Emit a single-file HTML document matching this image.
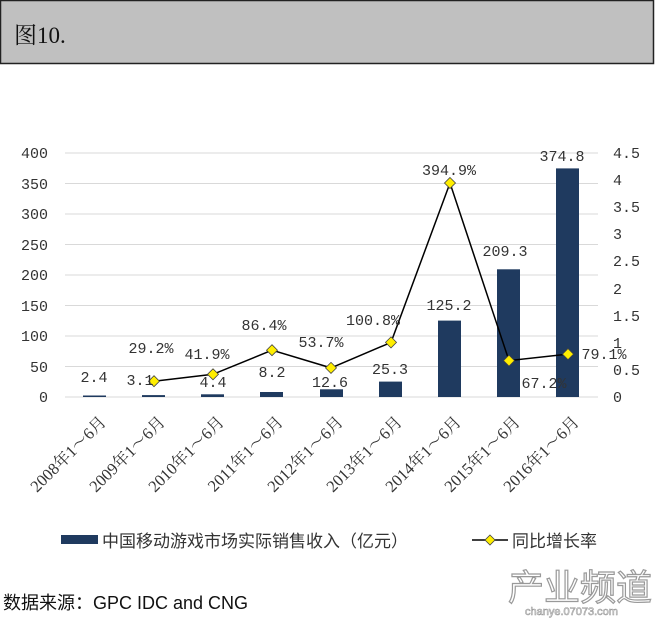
<!DOCTYPE html>
<html><head><meta charset="utf-8"><style>
body{margin:0;background:#fff;width:655px;height:618px;overflow:hidden;position:relative}
</style></head><body>
<svg width="655" height="618" xmlns="http://www.w3.org/2000/svg" style="position:absolute;left:0;top:0">
<rect x="0.5" y="0.5" width="653" height="63" fill="#c0c0c0" stroke="#222" stroke-width="1.5"/>
<text x="14" y="43" font-family="Liberation Serif, Noto Serif CJK SC, serif" font-size="23" fill="#111">图10.</text>
<g stroke="#d9d9d9" stroke-width="1">
<line x1="65" x2="598" y1="153" y2="153"/><line x1="65" x2="598" y1="183.5" y2="183.5"/>
<line x1="65" x2="598" y1="214" y2="214"/><line x1="65" x2="598" y1="244.5" y2="244.5"/>
<line x1="65" x2="598" y1="275" y2="275"/><line x1="65" x2="598" y1="305.5" y2="305.5"/>
<line x1="65" x2="598" y1="336" y2="336"/><line x1="65" x2="598" y1="366.5" y2="366.5"/>
<line x1="65" x2="598" y1="397" y2="397"/>
</g>
<g font-family="Liberation Mono, monospace" font-size="15" fill="#333" text-anchor="end">
<text x="48" y="158">400</text><text x="48" y="189">350</text><text x="48" y="219">300</text>
<text x="48" y="250">250</text><text x="48" y="280">200</text><text x="48" y="311">150</text>
<text x="48" y="341">100</text><text x="48" y="372">50</text><text x="48" y="402">0</text>
</g>
<g font-family="Liberation Mono, monospace" font-size="15" fill="#333">
<text x="613" y="158">4.5</text><text x="613" y="185">4</text><text x="613" y="212">3.5</text>
<text x="613" y="239">3</text><text x="613" y="266">2.5</text><text x="613" y="294">2</text>
<text x="613" y="321">1.5</text><text x="613" y="348">1</text><text x="613" y="375">0.5</text>
<text x="613" y="402">0</text>
</g>
<g fill="#1f3a5f">
<rect x="83" y="395.5" width="23" height="1.5"/>
<rect x="142" y="395.1" width="23" height="1.9"/>
<rect x="201" y="394.3" width="23" height="2.7"/>
<rect x="260" y="392" width="23" height="5"/>
<rect x="320" y="389.3" width="23" height="7.7"/>
<rect x="379" y="381.6" width="23" height="15.4"/>
<rect x="438" y="320.6" width="23" height="76.4"/>
<rect x="497" y="269.3" width="23" height="127.7"/>
<rect x="556" y="168.4" width="23" height="228.6"/>
</g>
<polyline fill="none" stroke="#000" stroke-width="1.5" points="154,381.2 213,374.3 272,350.2 331,367.9 391,342.4 450,183 509,360.6 568,354.1"/>
<g fill="#ffee00" stroke="#444" stroke-width="0.8">
<path d="M154,375.7 l5.5,5.5 -5.5,5.5 -5.5,-5.5z"/>
<path d="M213,368.8 l5.5,5.5 -5.5,5.5 -5.5,-5.5z"/>
<path d="M272,344.7 l5.5,5.5 -5.5,5.5 -5.5,-5.5z"/>
<path d="M331,362.4 l5.5,5.5 -5.5,5.5 -5.5,-5.5z"/>
<path d="M391,336.9 l5.5,5.5 -5.5,5.5 -5.5,-5.5z"/>
<path d="M450,177.5 l5.5,5.5 -5.5,5.5 -5.5,-5.5z"/>
<path d="M509,355.1 l5.5,5.5 -5.5,5.5 -5.5,-5.5z"/>
<path d="M568,348.6 l5.5,5.5 -5.5,5.5 -5.5,-5.5z"/>
</g>
<g font-family="Liberation Mono, monospace" font-size="15" fill="#333" text-anchor="middle">
<text x="94" y="382">2.4</text><text x="140" y="385">3.1</text><text x="213" y="387">4.4</text>
<text x="272" y="377">8.2</text><text x="330" y="387">12.6</text><text x="390" y="374">25.3</text>
<text x="449" y="310">125.2</text><text x="505" y="256">209.3</text><text x="562" y="161">374.8</text>
<text x="151" y="353">29.2%</text><text x="207" y="359">41.9%</text><text x="264" y="330">86.4%</text>
<text x="321" y="347">53.7%</text><text x="373" y="325">100.8%</text><text x="449" y="175">394.9%</text>
<text x="544" y="388">67.2%</text><text x="604" y="359">79.1%</text>
</g>
<g font-family="Liberation Serif, Noto Serif CJK SC, serif" font-size="16.5" fill="#333" text-anchor="end">
<text transform="translate(107,423) rotate(-45)">2008年1～6月</text>
<text transform="translate(166,423) rotate(-45)">2009年1～6月</text>
<text transform="translate(225,423) rotate(-45)">2010年1～6月</text>
<text transform="translate(284,423) rotate(-45)">2011年1～6月</text>
<text transform="translate(344,423) rotate(-45)">2012年1～6月</text>
<text transform="translate(403,423) rotate(-45)">2013年1～6月</text>
<text transform="translate(462,423) rotate(-45)">2014年1～6月</text>
<text transform="translate(521,423) rotate(-45)">2015年1～6月</text>
<text transform="translate(580,423) rotate(-45)">2016年1～6月</text>
</g>
<rect x="61" y="535" width="37" height="9" fill="#1f3a5f"/>
<text x="102" y="547" font-family="Liberation Sans, Noto Sans CJK SC, sans-serif" font-size="17" fill="#333">中国移动游戏市场实际销售收入（亿元）</text>
<line x1="472" x2="508" y1="540" y2="540" stroke="#000" stroke-width="1.5"/>
<path d="M490,535 l5,5 -5,5 -5,-5z" fill="#ffee00" stroke="#444" stroke-width="0.8"/>
<text x="512" y="547" font-family="Liberation Sans, Noto Sans CJK SC, sans-serif" font-size="17" fill="#333">同比增长率</text>
<text x="3" y="609" font-family="Liberation Sans, Noto Sans CJK SC, sans-serif" font-size="18" fill="#111">数据来源：GPC IDC and CNG</text>
<text x="508" y="600" font-family="Noto Sans CJK SC, sans-serif" font-size="36" fill="#fff" stroke="#999" stroke-width="1.2">产业频道</text>
<text x="525" y="615" font-family="Liberation Sans, sans-serif" font-size="11" fill="#fff" stroke="#999" stroke-width="0.6">chanye.07073.com</text>
</svg>
</body></html>
